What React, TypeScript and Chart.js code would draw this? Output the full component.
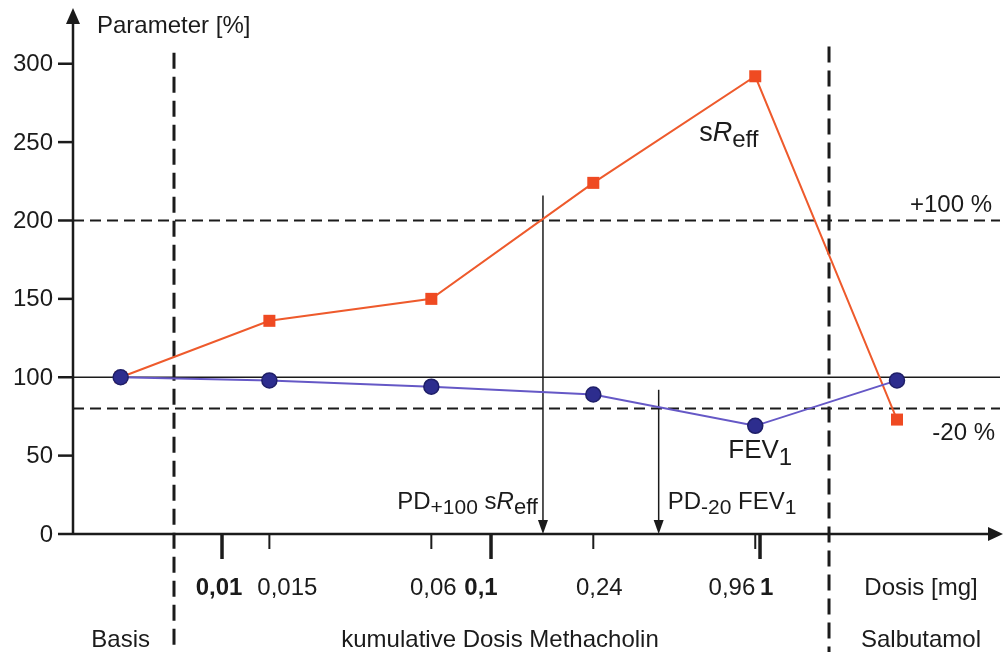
import React, { useEffect, useRef } from "react";
import { Chart, registerables } from "chart.js";

Chart.register(...registerables);

// ---- data ----
const pointLabels = ["Basis", "0,015", "0,06", "0,24", "0,96", "Salbutamol"];
// dose positions (mg) on the logarithmic dose axis; Basis and Salbutamol sit outside the methacholin range
const pointDoses = [0.0042, 0.015, 0.06, 0.24, 0.96, 3.23];
const sReffValues = [100, 136, 150, 224, 292, 73];
const fev1Values = [100, 98, 94, 89, 69, 98];

const yTicks = [0, 50, 100, 150, 200, 250, 300];
const xTickValues = [0.01, 0.015, 0.06, 0.1, 0.24, 0.96, 1];
const xTickLabels = ["0,01", "0,015", "0,06", "0,1", "0,24", "0,96", "1"];
const xTickMajor = [true, false, false, true, false, false, true];

const baselineValue = 100;
const upperThreshold = 200; // +100 %
const lowerThreshold = 80; // -20 %
const pd100sReff = 0.156; // mg
const pd20Fev1 = 0.42; // mg
const pdArrowTops = [216, 92]; // parameter %
const phaseBoundaries = [0.00663, 1.805]; // mg
const phaseBoundaryTops = [307, 311];

const X_MIN = 0.002793;
const X_MAX = 7.8;
const Y_MAX = 333;

// label layout (pixels)
const xTickLabelDx = [-3, 18, 2, -10, 6, 0, 0];
const xTickLabelAlign: CanvasTextAlign[] = ["center", "center", "center", "center", "center", "right", "left"];

const FONT = '"Liberation Sans", Arial, Helvetica, sans-serif';
const INK = "#1b1b1b";

type Part = { text: string; font: string; dy?: number };

function drawRich(ctx: CanvasRenderingContext2D, x: number, y: number, parts: Part[], align: "left" | "right" | "center") {
  let total = 0;
  for (const p of parts) {
    ctx.font = p.font;
    total += ctx.measureText(p.text).width;
  }
  let cx = align === "right" ? x - total : align === "center" ? x - total / 2 : x;
  ctx.textAlign = "left";
  ctx.textBaseline = "alphabetic";
  for (const p of parts) {
    ctx.font = p.font;
    ctx.fillText(p.text, cx, y + (p.dy || 0));
    cx += ctx.measureText(p.text).width;
  }
}

const f = (size: number, style = "") => `${style} ${size}px ${FONT}`.trim();

const decorPlugin = {
  id: "decor",
  beforeDatasetsDraw(chart: any) {
    const ctx: CanvasRenderingContext2D = chart.ctx;
    const { left, right, top, bottom } = chart.chartArea;
    const xs = chart.scales.x;
    const ys = chart.scales.y;
    const px = (d: number) => xs.getPixelForValue(Math.log10(d));
    const py = (v: number) => ys.getPixelForValue(v);
    ctx.save();
    ctx.strokeStyle = INK;
    ctx.fillStyle = INK;

    // threshold dashed lines
    ctx.lineWidth = 2;
    ctx.setLineDash([11, 6]);
    for (const v of [upperThreshold, lowerThreshold]) {
      ctx.beginPath();
      ctx.moveTo(left, py(v));
      ctx.lineTo(right, py(v));
      ctx.stroke();
    }
    ctx.setLineDash([]);
    // baseline 100 %
    ctx.lineWidth = 1.5;
    ctx.beginPath();
    ctx.moveTo(left, py(baselineValue));
    ctx.lineTo(right, py(baselineValue));
    ctx.stroke();

    // phase boundaries
    ctx.lineWidth = 3;
    ctx.setLineDash([16, 8]);
    phaseBoundaries.forEach((d, i) => {
      ctx.beginPath();
      ctx.moveTo(px(d), py(phaseBoundaryTops[i]));
      ctx.lineTo(px(d), chart.height);
      ctx.stroke();
    });
    ctx.setLineDash([]);

    // PD arrows
    ctx.lineWidth = 1.5;
    [pd100sReff, pd20Fev1].forEach((d, i) => {
      const x = px(d);
      ctx.beginPath();
      ctx.moveTo(x, py(pdArrowTops[i]));
      ctx.lineTo(x, bottom - 12);
      ctx.stroke();
      ctx.beginPath();
      ctx.moveTo(x - 5, bottom - 14);
      ctx.lineTo(x + 5, bottom - 14);
      ctx.lineTo(x, bottom);
      ctx.closePath();
      ctx.fill();
    });

    // axes
    ctx.lineWidth = 2.5;
    ctx.beginPath();
    ctx.moveTo(left, bottom + 1);
    ctx.lineTo(left, top + 10);
    ctx.stroke();
    ctx.beginPath();
    ctx.moveTo(left - 7, top + 12);
    ctx.lineTo(left + 7, top + 12);
    ctx.lineTo(left, top - 4);
    ctx.closePath();
    ctx.fill();

    ctx.beginPath();
    ctx.moveTo(left, bottom);
    ctx.lineTo(right - 10, bottom);
    ctx.stroke();
    ctx.beginPath();
    ctx.moveTo(right - 12, bottom - 7);
    ctx.lineTo(right - 12, bottom + 7);
    ctx.lineTo(right + 3, bottom);
    ctx.closePath();
    ctx.fill();

    // y ticks
    ctx.lineWidth = 2.5;
    ctx.font = f(24);
    ctx.textAlign = "right";
    ctx.textBaseline = "middle";
    for (const t of yTicks) {
      const y = py(t);
      ctx.beginPath();
      ctx.moveTo(left - 15, y);
      ctx.lineTo(left, y);
      ctx.stroke();
      ctx.fillText(String(t), left - 20, y + 1);
    }

    // x ticks
    xTickValues.forEach((d, i) => {
      const x = px(d);
      const major = xTickMajor[i];
      ctx.lineWidth = major ? 3.5 : 2;
      ctx.beginPath();
      ctx.moveTo(x, bottom);
      ctx.lineTo(x, bottom + (major ? 25 : 15));
      ctx.stroke();
      ctx.font = f(24, major ? "bold" : "");
      ctx.textBaseline = "alphabetic";
      ctx.textAlign = xTickLabelAlign[i];
      ctx.fillText(xTickLabels[i], x + xTickLabelDx[i], bottom + 61);
    });

    ctx.restore();
  },
  afterDatasetsDraw(chart: any) {
    const ctx: CanvasRenderingContext2D = chart.ctx;
    const { left, right, top, bottom } = chart.chartArea;
    const xs = chart.scales.x;
    const ys = chart.scales.y;
    const px = (d: number) => xs.getPixelForValue(Math.log10(d));
    const py = (v: number) => ys.getPixelForValue(v);
    ctx.save();
    ctx.fillStyle = INK;

    // axis titles
    ctx.font = f(24);
    ctx.textAlign = "left";
    ctx.textBaseline = "alphabetic";
    ctx.fillText("Parameter [%]", left + 24, top + 21);

    const salX = px(pointDoses[5]) + 24;
    ctx.textAlign = "center";
    ctx.fillText("Dosis [mg]", salX, bottom + 61);
    ctx.fillText(pointLabels[0], px(pointDoses[0]), bottom + 113);
    ctx.fillText("kumulative Dosis Methacholin", 500, bottom + 113);
    ctx.fillText(pointLabels[5], salX, bottom + 113);

    // threshold labels
    ctx.textAlign = "right";
    ctx.fillText("+100 %", right - 8, py(upperThreshold) - 8);
    ctx.fillText("-20 %", right - 5, py(lowerThreshold) + 31);

    // series labels
    const peakI = sReffValues.indexOf(Math.max(...sReffValues));
    drawRich(ctx, px(pointDoses[peakI]) - 56, py(sReffValues[peakI]) + 65, [
      { text: "s", font: f(27) },
      { text: "R", font: f(27, "italic") },
      { text: "eff", font: f(24), dy: 6 },
    ], "left");
    const minI = fev1Values.indexOf(Math.min(...fev1Values));
    drawRich(ctx, px(pointDoses[minI]) - 27, py(fev1Values[minI]) + 32, [
      { text: "FEV", font: f(26) },
      { text: "1", font: f(24), dy: 7 },
    ], "left");

    // PD labels
    drawRich(ctx, px(pd100sReff) - 5, bottom - 25, [
      { text: "PD", font: f(24) },
      { text: "+100", font: f(21), dy: 5 },
      { text: " s", font: f(24) },
      { text: "R", font: f(24, "italic") },
      { text: "eff", font: f(22), dy: 5 },
    ], "right");
    drawRich(ctx, px(pd20Fev1) + 9, bottom - 25, [
      { text: "PD", font: f(24) },
      { text: "-20", font: f(21), dy: 5 },
      { text: " FEV", font: f(24) },
      { text: "1", font: f(21), dy: 5 },
    ], "left");

    ctx.restore();
  },
};

export default function App() {
  const ref = useRef<HTMLCanvasElement>(null);
  useEffect(() => {
    if (!ref.current) return;
    const toPts = (vals: number[]) => vals.map((v, i) => ({ x: Math.log10(pointDoses[i]), y: v }));
    const chart = new Chart(ref.current, {
      type: "line",
      data: {
        datasets: [
          {
            label: "FEV1",
            data: toPts(fev1Values),
            borderColor: "#6558c6",
            borderWidth: 2,
            pointStyle: "circle",
            pointRadius: 7.5,
            pointBackgroundColor: "#2d2d8e",
            pointBorderColor: "#1f1f68",
            pointBorderWidth: 1.5,
            order: 0,
          },
          {
            label: "sReff",
            data: toPts(sReffValues),
            borderColor: "#ee5a2c",
            borderWidth: 2,
            pointStyle: "rect",
            pointRadius: 8.5,
            pointBackgroundColor: "#ef4a22",
            pointBorderColor: "#ef4a22",
            pointBorderWidth: 0,
            order: 1,
          },
        ],
      },
      options: {
        responsive: false,
        animation: false,
        devicePixelRatio: 1,
        layout: { autoPadding: false, padding: { left: 73, right: 5, top: 12, bottom: 118 } },
        plugins: { legend: { display: false }, tooltip: { enabled: false } },
        scales: {
          x: { type: "linear", display: false, bounds: "data", min: Math.log10(X_MIN), max: Math.log10(X_MAX) },
          y: { type: "linear", display: false, bounds: "data", min: 0, max: Y_MAX },
        },
      },
      plugins: [decorPlugin],
    });
    return () => chart.destroy();
  }, []);
  return (
    <div style={{ position: "absolute", left: 0, top: 0, width: 1005, height: 652, background: "#fff" }}>
      <canvas ref={ref} width={1005} height={652} style={{ display: "block" }} />
    </div>
  );
}
